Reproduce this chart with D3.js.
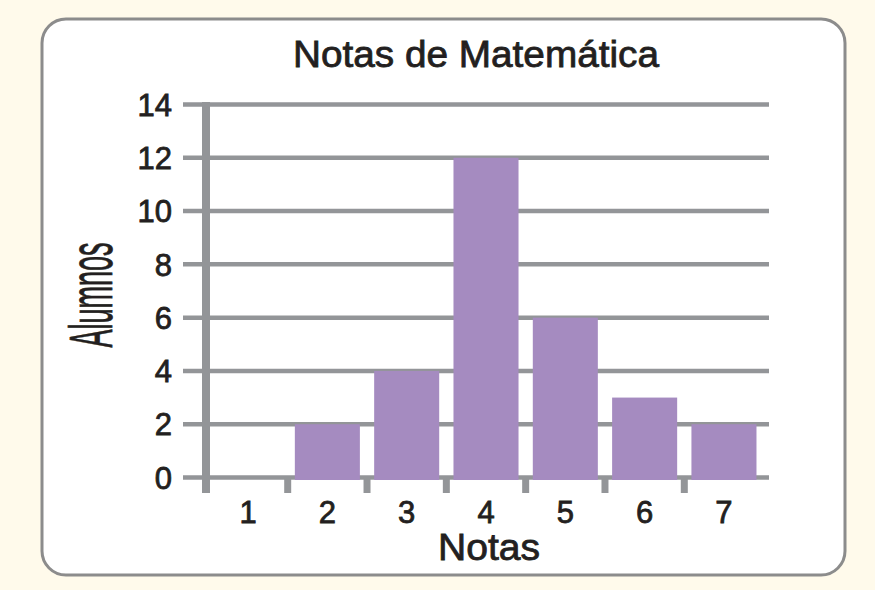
<!DOCTYPE html>
<html>
<head>
<meta charset="utf-8">
<script src="https://cdn.jsdelivr.net/npm/d3@7.9.0/dist/d3.min.js"></script>
<style>
  html, body { margin: 0; padding: 0; background: #fffaeb; }
  svg { display: block; }
  text { font-family: 'Liberation Sans', Arial, sans-serif; fill: #231f20; stroke: #231f20; stroke-width: 0.8px; }
</style>
</head>
<body>
<svg id="chart" width="875" height="590"></svg>
<script>
// chart data
const notas = ['1', '2', '3', '4', '5', '6', '7'];
const alumnos = [0, 2, 4, 12, 6, 3, 2];
const yTicks = [0, 2, 4, 6, 8, 10, 12, 14];

const titleText = 'Notas de Matemática';
const xTitle = 'Notas';
const yTitle = 'Alumnos';

const svg = d3.select('#chart');

// panel
svg.append('rect')
  .attr('x', 42).attr('y', 19)
  .attr('width', 803).attr('height', 556)
  .attr('rx', 24).attr('ry', 24)
  .attr('fill', '#fff')
  .attr('stroke', '#8c8c8c')
  .attr('stroke-width', 3);

const x = d3.scaleBand()
  .domain(notas)
  .range([206, 766])
  .paddingInner(0.18)
  .paddingOuter(0.12);

const y = d3.scaleLinear()
  .domain([0, 14])
  .range([477.5, 104.5]);

const gridColor = '#939598';

// gridlines
svg.append('g')
  .selectAll('line')
  .data(yTicks)
  .join('line')
  .attr('x1', 183)
  .attr('x2', 769)
  .attr('y1', (d) => y(d))
  .attr('y2', (d) => y(d))
  .attr('stroke', gridColor)
  .attr('stroke-width', 4.5);

// x ticks between categories
const half = x.step() * x.paddingInner() / 2;
svg.append('g')
  .selectAll('line')
  .data(notas.slice(1))
  .join('line')
  .attr('x1', (d) => x(d) - half)
  .attr('x2', (d) => x(d) - half)
  .attr('y1', y(0))
  .attr('y2', 493)
  .attr('stroke', gridColor)
  .attr('stroke-width', 7);

// y axis line
svg.append('line')
  .attr('x1', 206).attr('x2', 206)
  .attr('y1', y(14) - 2.5)
  .attr('y2', 493)
  .attr('stroke', gridColor)
  .attr('stroke-width', 8);

// bars
svg.append('g')
  .selectAll('rect')
  .data(notas)
  .join('rect')
  .attr('x', (d) => x(d))
  .attr('width', x.bandwidth())
  .attr('y', (d, i) => y(alumnos[i]))
  .attr('height', (d, i) => alumnos[i] > 0 ? y(0) + 2.5 - y(alumnos[i]) : 0)
  .attr('fill', '#a58bc0');

// y tick labels
svg.append('g')
  .selectAll('text')
  .data(yTicks)
  .join('text')
  .attr('x', 172)
  .attr('y', (d) => y(d))
  .attr('dy', '0.36em')
  .attr('text-anchor', 'end')
  .attr('font-size', 31)
  .text((d) => d);

// x tick labels
svg.append('g')
  .selectAll('text')
  .data(notas)
  .join('text')
  .attr('x', (d) => x(d) + x.bandwidth() / 2)
  .attr('y', 523)
  .attr('text-anchor', 'middle')
  .attr('font-size', 31)
  .text((d) => d);

// title
svg.append('text')
  .attr('x', 476)
  .attr('y', 67)
  .attr('text-anchor', 'middle')
  .attr('font-size', 37)
  .attr('textLength', 366)
  .attr('lengthAdjust', 'spacingAndGlyphs')
  .text(titleText);

// x axis title
svg.append('text')
  .attr('x', 489)
  .attr('y', 560)
  .attr('text-anchor', 'middle')
  .attr('font-size', 37)
  .attr('textLength', 102)
  .attr('lengthAdjust', 'spacingAndGlyphs')
  .text(xTitle);

// y axis title (tall, narrow)
svg.append('text')
  .attr('transform', 'translate(112,295) rotate(-90)')
  .attr('text-anchor', 'middle')
  .attr('font-size', 62)
  .attr('textLength', 105)
  .attr('lengthAdjust', 'spacingAndGlyphs')
  .text(yTitle);
</script>
</body>
</html>
